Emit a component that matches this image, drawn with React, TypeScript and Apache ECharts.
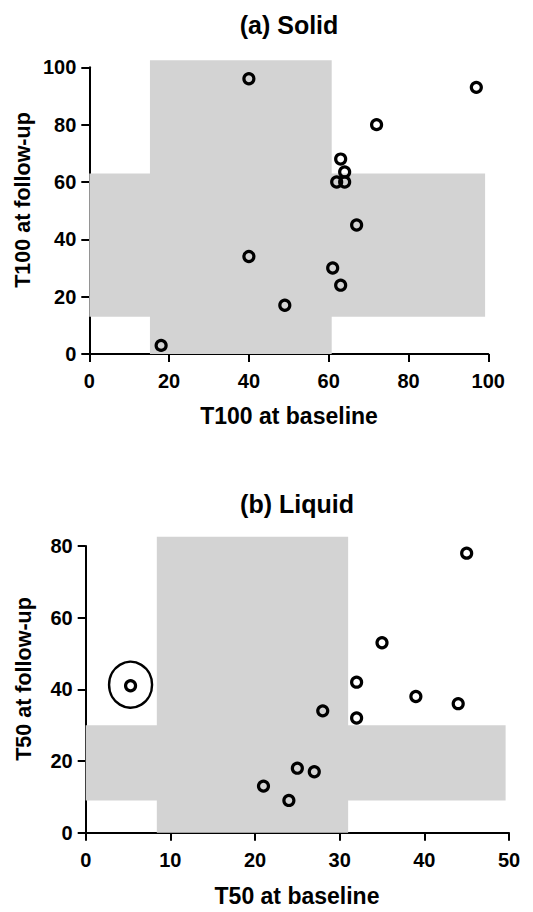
import React, { useEffect, useRef } from "react";
import * as echarts from "echarts";

// Panel (a) Solid
const solidBaseline = [18, 40, 97, 72, 63, 64, 62, 64, 67, 40, 61, 63, 49];
const solidFollowUp = [3, 96, 93, 80, 68, 63.5, 60, 60, 45, 34, 30, 24, 17];
// gray reference bands: [x0, x1, y0, y1]
const solidBands = [
  [15.2, 60.75, 0, 102.5],
  [0, 99.2, 13, 63],
];
const solidTicks = [0, 20, 40, 60, 80, 100];

// Panel (b) Liquid
const liquidBaseline = [5.3, 21, 24, 25, 27, 28, 32, 32, 35, 39, 44, 45];
const liquidFollowUp = [41, 13, 9, 18, 17, 34, 42, 32, 53, 38, 36, 78];
const liquidBands = [
  [8.4, 31, 0, 82.6],
  [0, 49.6, 9, 30],
];
const liquidHighlight = [[5.3, 41.3]];
const liquidXTicks = [0, 10, 20, 30, 40, 50];
const liquidYTicks = [0, 20, 40, 60, 80];

const FONT = "'Liberation Sans', Arial, Helvetica, sans-serif";
const GRAY = "#d3d3d3";

export default function App() {
  const ref = useRef<HTMLDivElement>(null);
  useEffect(() => {
    if (!ref.current) return;
    const chart = echarts.init(ref.current, null, { renderer: "svg" });

    const axisCommon = (min: number, max: number, interval: number) => ({
      type: "value",
      min,
      max,
      interval,
      splitLine: { show: false },
      axisLine: { show: true, onZero: false, lineStyle: { color: "#000", width: 2 } },
      axisTick: { show: true, inside: false, length: 8, lineStyle: { color: "#000", width: 2 } },
    });
    const labelStyle = {
      color: "#000",
      fontFamily: FONT,
      fontWeight: "bold",
      fontSize: 20,
    };

    const bandSeries = (bands: number[][], idx: number) => ({
      type: "custom",
      xAxisIndex: idx,
      yAxisIndex: idx,
      clip: false,
      silent: true,
      z: 1,
      data: bands,
      renderItem: (params: any, api: any) => {
        const p0 = api.coord([api.value(0), api.value(3)]);
        const p1 = api.coord([api.value(1), api.value(2)]);
        return {
          type: "rect",
          shape: { x: p0[0], y: p0[1], width: p1[0] - p0[0], height: p1[1] - p0[1] },
          style: { fill: GRAY },
        };
      },
    });

    const pointStyle = {
      color: "rgba(0,0,0,0)",
      borderColor: "#000",
      borderWidth: 3.2,
      opacity: 1,
    };

    const text = (t: string, x: number, y: number, size: number, rot = 0) => ({
      type: "text",
      x,
      y,
      rotation: rot,
      silent: true,
      style: {
        text: t,
        fill: "#000",
        fontFamily: FONT,
        fontWeight: "bold",
        fontSize: size,
        textAlign: "center",
        textVerticalAlign: "middle",
        verticalAlign: "middle",
      },
    });

    chart.setOption({
      animation: false,
      grid: [
        { left: 89.3, top: 67.3, width: 399, height: 286.7 },
        { left: 85.7, top: 546, width: 423.3, height: 286.7 },
      ],
      xAxis: [
        {
          ...axisCommon(solidTicks[0], solidTicks[solidTicks.length - 1], 20),
          gridIndex: 0,
          axisLabel: { ...labelStyle, margin: 17 },
        },
        {
          ...axisCommon(liquidXTicks[0], liquidXTicks[liquidXTicks.length - 1], 10),
          gridIndex: 1,
          axisLabel: { ...labelStyle, margin: 17 },
        },
      ],
      yAxis: [
        {
          ...axisCommon(solidTicks[0], solidTicks[solidTicks.length - 1], 20),
          gridIndex: 0,
          axisLabel: { ...labelStyle, margin: 13 },
        },
        {
          ...axisCommon(liquidYTicks[0], liquidYTicks[liquidYTicks.length - 1], 20),
          gridIndex: 1,
          axisLabel: { ...labelStyle, margin: 13 },
        },
      ],
      series: [
        bandSeries(solidBands, 0),
        bandSeries(liquidBands, 1),
        {
          type: "scatter",
          xAxisIndex: 0,
          yAxisIndex: 0,
          z: 3,
          symbol: "circle",
          symbolSize: 10,
          itemStyle: pointStyle,
          data: solidBaseline.map((x, i) => [x, solidFollowUp[i]]),
        },
        {
          type: "scatter",
          xAxisIndex: 1,
          yAxisIndex: 1,
          z: 3,
          symbol: "circle",
          symbolSize: 10,
          itemStyle: pointStyle,
          data: liquidBaseline.map((x, i) => [x, liquidFollowUp[i]]),
        },
        {
          type: "scatter",
          xAxisIndex: 1,
          yAxisIndex: 1,
          z: 3,
          symbol: "circle",
          symbolSize: [43, 46],
          itemStyle: { color: "rgba(0,0,0,0)", borderColor: "#000", borderWidth: 2.5, opacity: 1 },
          data: liquidHighlight,
        },
      ],
      graphic: [
        text("(a) Solid", 289, 25, 25),
        text("(b) Liquid", 297, 504, 25),
        text("T100 at baseline", 289, 416, 23),
        text("T50 at baseline", 297, 896, 23),
        text("T100 at follow-up", 23, 200, 21.5, Math.PI / 2),
        text("T50 at follow-up", 24, 679, 21.5, Math.PI / 2),
      ],
    });
    return () => chart.dispose();
  }, []);
  return (
    <div
      ref={ref}
      style={{ position: "absolute", left: 0, top: 0, width: 533, height: 912 }}
    />
  );
}
